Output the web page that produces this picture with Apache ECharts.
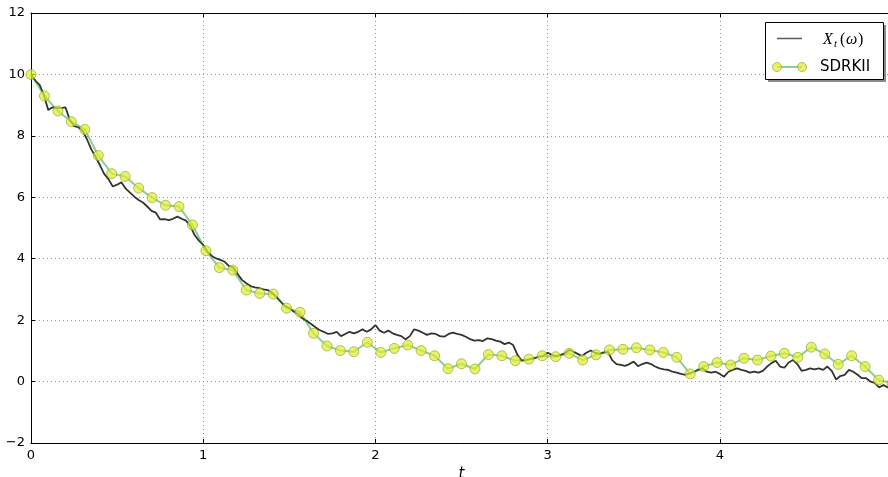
<!DOCTYPE html>
<html>
<head>
<meta charset="utf-8">
<script src="https://cdn.jsdelivr.net/npm/echarts@6/dist/echarts.min.js"></script>
<style>
  html, body { margin: 0; padding: 0; background: #fff; }
  #chart { width: 888px; height: 477px; }
</style>
</head>
<body>
<div id="chart"></div>
<script>
// Sample path X_t(omega), sampled every pathStep in t
const pathStep = 0.025;
const pathValues = [
  10.0, 9.80, 9.66, 9.33, 8.84, 8.93, 8.90, 8.90, 8.93, 8.52,
  8.32, 8.28, 8.16, 7.89, 7.56, 7.32, 7.05, 6.76, 6.59, 6.35,
  6.41, 6.49, 6.28, 6.15, 6.02, 5.91, 5.83, 5.70, 5.56, 5.50,
  5.28, 5.29, 5.26, 5.30, 5.37, 5.30, 5.24, 5.07, 4.77, 4.59,
  4.45, 4.23, 4.09, 4.01, 3.96, 3.90, 3.76, 3.72, 3.50, 3.31,
  3.20, 3.11, 3.07, 3.04, 3.00, 2.98, 2.89, 2.76, 2.60, 2.46,
  2.39, 2.28, 2.20, 2.06, 1.98, 1.88, 1.78, 1.68, 1.62, 1.55,
  1.57, 1.62, 1.48, 1.55, 1.62, 1.57, 1.62, 1.70, 1.62, 1.70,
  1.84, 1.66, 1.59, 1.66, 1.57, 1.52, 1.48, 1.38, 1.48, 1.70,
  1.66, 1.59, 1.52, 1.57, 1.55, 1.48, 1.46, 1.55, 1.59, 1.55,
  1.52, 1.46, 1.38, 1.33, 1.35, 1.32, 1.41, 1.38, 1.33, 1.30,
  1.22, 1.27, 1.19, 0.87, 0.68, 0.70, 0.73, 0.76, 0.81, 0.83,
  0.94, 0.87, 0.83, 0.87, 0.92, 1.03, 0.97, 0.90, 0.83, 0.94,
  1.01, 0.94, 0.90, 0.94, 0.97, 0.70, 0.57, 0.54, 0.51, 0.57,
  0.65, 0.50, 0.57, 0.62, 0.57, 0.49, 0.43, 0.40, 0.38, 0.32,
  0.29, 0.25, 0.22, 0.27, 0.32, 0.38, 0.43, 0.32, 0.29, 0.32,
  0.25, 0.16, 0.32, 0.38, 0.43, 0.38, 0.35, 0.29, 0.32, 0.29,
  0.35, 0.49, 0.60, 0.68, 0.49, 0.45, 0.62, 0.70, 0.57, 0.35,
  0.38, 0.43, 0.40, 0.43, 0.38, 0.49, 0.35, 0.07, 0.18, 0.22,
  0.38, 0.32, 0.22, 0.11, 0.11, 0.00, -0.04, -0.19, -0.11, -0.19,
  -0.15
];

// SDRKII approximation on the coarse grid
const schemeStep = 5 / 64;
const schemeValues = [
  10.0, 9.30, 8.81, 8.46, 8.21, 7.36, 6.77, 6.68, 6.30, 5.99,
  5.74, 5.70, 5.10, 4.26, 3.71, 3.63, 2.98, 2.87, 2.85, 2.39,
  2.26, 1.57, 1.16, 1.01, 0.97, 1.28, 0.95, 1.08, 1.19, 1.01,
  0.84, 0.42, 0.58, 0.41, 0.88, 0.84, 0.68, 0.73, 0.84, 0.81,
  0.92, 0.70, 0.87, 1.03, 1.05, 1.10, 1.03, 0.95, 0.79, 0.25,
  0.49, 0.62, 0.54, 0.76, 0.70, 0.83, 0.92, 0.79, 1.12, 0.90,
  0.56, 0.84, 0.49, 0.05, -0.05
];

const xTicks = [0, 1, 2, 3, 4, 5];
const yTicks = [-2, 0, 2, 4, 6, 8, 10, 12];

const pathData = pathValues.map((v, k) => [k * pathStep, v]);
const schemeData = schemeValues.map((v, i) => [i * schemeStep, v]);

const tickFont = { fontFamily: 'DejaVu Sans', fontSize: 13, color: '#000' };
const gridLine = { show: true, lineStyle: { color: '#9a9a9a', type: [1, 3], width: 1 } };
const spine = { show: true, onZero: false, lineStyle: { color: '#000', width: 1 } };
const inTick = { show: true, inside: true, length: 4, lineStyle: { color: '#000' } };
const minus = v => (v < 0 ? '\u2212' + (-v) : String(v));

const chart = echarts.init(document.getElementById('chart'), null, { renderer: 'canvas' });
chart.setOption({
  animation: false,
  backgroundColor: '#fff',
  // the t = 5 edge of the axes sits just past the right border of the figure
  grid: { left: 31, width: 861, top: 13, height: 430, containLabel: false, outerBoundsMode: 'none' },
  xAxis: [
    {
      type: 'value', min: xTicks[0], max: xTicks[xTicks.length - 1], interval: 1,
      position: 'bottom',
      axisLine: spine, axisTick: inTick, splitLine: gridLine,
      axisLabel: Object.assign({ margin: 6, showMaxLabel: false, formatter: minus }, tickFont),
      name: 't', nameLocation: 'middle', nameGap: 24,
      nameTextStyle: { fontFamily: 'DejaVu Sans', fontStyle: 'italic', fontSize: 15, color: '#000' }
    },
    {
      type: 'value', min: xTicks[0], max: xTicks[xTicks.length - 1], interval: 1,
      position: 'top',
      axisLine: spine, axisTick: inTick, splitLine: { show: false },
      axisLabel: { show: false }
    }
  ],
  yAxis: [
    {
      type: 'value', min: yTicks[0], max: yTicks[yTicks.length - 1], interval: 2,
      position: 'left',
      axisLine: spine, axisTick: inTick, splitLine: gridLine,
      axisLabel: Object.assign({ margin: 6, formatter: minus }, tickFont)
    }
  ],
  series: [
    {
      name: 'X_t(omega)', type: 'line', data: pathData,
      xAxisIndex: 0, yAxisIndex: 0,
      symbol: 'none', smooth: false,
      lineStyle: { color: '#333', width: 1.8 },
      z: 2
    },
    {
      name: 'SDRKII', type: 'line', data: schemeData,
      xAxisIndex: 0, yAxisIndex: 0,
      symbol: 'circle', symbolSize: 10, showSymbol: true,
      lineStyle: { color: 'rgba(0,150,0,0.45)', width: 2 },
      itemStyle: { color: 'rgba(222,236,50,0.7)', borderColor: 'rgba(150,160,30,0.65)', borderWidth: 1 },
      z: 3
    }
  ],
  graphic: [
    // legend frame with offset shadow
    { type: 'rect', shape: { x: 768, y: 25, width: 118, height: 57 }, style: { fill: '#8c8c8c' }, z: 100 },
    { type: 'rect', shape: { x: 765.5, y: 22.5, width: 118, height: 57 }, style: { fill: '#fff', stroke: '#000', lineWidth: 1 }, z: 101 },
    // entry: sample path
    { type: 'line', shape: { x1: 777, y1: 38.5, x2: 802, y2: 38.5 }, style: { stroke: '#5a5a5a', lineWidth: 1.5 }, z: 102 },
    { type: 'text', style: { x: 823, y: 40, text: 'X', fontFamily: 'Liberation Serif', fontStyle: 'italic', fontSize: 16, fill: '#000', verticalAlign: 'middle' }, z: 102 },
    { type: 'text', style: { x: 834, y: 44, text: 't', fontFamily: 'Liberation Serif', fontStyle: 'italic', fontSize: 11, fill: '#000', verticalAlign: 'middle' }, z: 102 },
    { type: 'text', style: { x: 840, y: 40, text: '(', fontFamily: 'Liberation Serif', fontSize: 16, fill: '#000', verticalAlign: 'middle' }, z: 102 },
    { type: 'text', style: { x: 846, y: 40, text: '\u03c9', fontFamily: 'Liberation Serif', fontStyle: 'italic', fontSize: 16, fill: '#000', verticalAlign: 'middle' }, z: 102 },
    { type: 'text', style: { x: 858, y: 40, text: ')', fontFamily: 'Liberation Serif', fontSize: 16, fill: '#000', verticalAlign: 'middle' }, z: 102 },
    // entry: SDRKII
    { type: 'line', shape: { x1: 777, y1: 67, x2: 802, y2: 67 }, style: { stroke: 'rgba(0,150,0,0.45)', lineWidth: 2 }, z: 102 },
    { type: 'circle', shape: { cx: 777, cy: 67, r: 4.5 }, style: { fill: 'rgba(222,236,50,0.7)', stroke: 'rgba(150,160,30,0.65)', lineWidth: 1 }, z: 103 },
    { type: 'circle', shape: { cx: 802, cy: 67, r: 4.5 }, style: { fill: 'rgba(222,236,50,0.7)', stroke: 'rgba(150,160,30,0.65)', lineWidth: 1 }, z: 103 },
    { type: 'text', style: { x: 820, y: 67, text: 'SDRKII', fontFamily: 'DejaVu Sans', fontSize: 15, fill: '#000', verticalAlign: 'middle' }, z: 102 }
  ]
});
</script>
</body>
</html>
